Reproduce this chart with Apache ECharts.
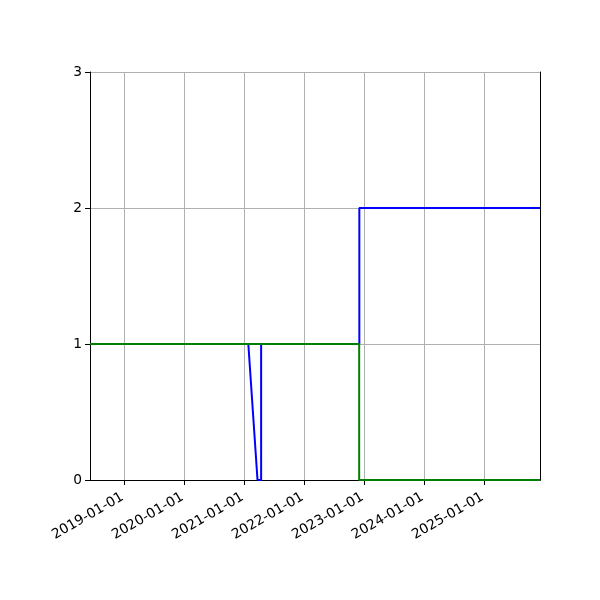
<!DOCTYPE html>
<html>
<head>
<meta charset="utf-8">
<script src="https://cdn.jsdelivr.net/npm/echarts@6/dist/echarts.min.js"></script>
<style>
  html, body { margin: 0; padding: 0; background: #fff; }
  #main { width: 600px; height: 600px; }
</style>
</head>
<body>
<div id="main"></div>
<script>
// data
var blueDates = ['2018-06-06', '2021-01-25', '2021-03-22', '2021-04-13', '2021-04-13', '2022-12-02', '2022-12-02', '2025-12-06'];
var blueValues = [1, 1, 0, 0, 1, 1, 2, 2];
var greenDates = ['2018-06-06', '2022-12-01', '2022-12-01', '2025-12-06'];
var greenValues = [1, 1, 0, 0];
var xMin = '2018-06-06', xMax = '2025-12-06';
var yTicks = [0, 1, 2, 3];

function pairs(d, v) {
    return d.map(function (x, i) { return [x, v[i]]; });
}

const Chart = echarts.init(document.getElementById('main'), null, { renderer: 'canvas' });
var YEAR = 365.25 * 24 * 3600 * 1000;
var font = { fontFamily: 'DejaVu Sans', fontSize: 13.8, color: '#000' };
var blackLine = { lineStyle: { color: '#000', width: 1 } };

var option = {
    animation: false,
    grid: { left: 90, right: 60, top: 72, bottom: 120 },
    xAxis: [{
        type: 'time',
        min: xMin,
        max: xMax,
        minInterval: YEAR,
        maxInterval: YEAR,
        axisLine: blackLine,
        axisTick: { show: true, length: 5, lineStyle: { color: '#000' } },
        axisLabel: Object.assign({
            rotate: 30,
            margin: 15,
            padding: [0, 2, 0, 0],
            hideOverlap: false,
            showMinLabel: false,
            showMaxLabel: false,
            formatter: '{yyyy}-{MM}-{dd}'
        }, font),
        splitLine: { show: true, lineStyle: { color: '#b0b0b0', width: 1 } },
        minorTick: { show: false }
    }, {
        // top spine
        type: 'time', position: 'top', min: xMin, max: xMax,
        axisLine: blackLine, axisTick: { show: false }, axisLabel: { show: false },
        splitLine: { show: false }
    }],
    yAxis: [{
        type: 'value',
        min: yTicks[0],
        max: yTicks[yTicks.length - 1],
        interval: 1,
        axisLine: Object.assign({ show: true }, blackLine),
        axisTick: { show: true, length: 5, lineStyle: { color: '#000' } },
        axisLabel: Object.assign({ margin: 8 }, font),
        splitLine: { show: true, lineStyle: { color: '#b0b0b0', width: 1 } }
    }, {
        // right spine
        type: 'value', position: 'right', min: yTicks[0], max: yTicks[yTicks.length - 1],
        axisLine: Object.assign({ show: true }, blackLine), axisTick: { show: false },
        axisLabel: { show: false }, splitLine: { show: false }
    }],
    series: [{
        type: 'line',
        data: pairs(blueDates, blueValues),
        showSymbol: false,
        lineStyle: { color: '#0000ff', width: 2 },
        z: 2
    }, {
        type: 'line',
        data: pairs(greenDates, greenValues),
        showSymbol: false,
        lineStyle: { color: '#008000', width: 2 },
        z: 3
    }]
};
Chart.setOption(option);
</script>
</body>
</html>
